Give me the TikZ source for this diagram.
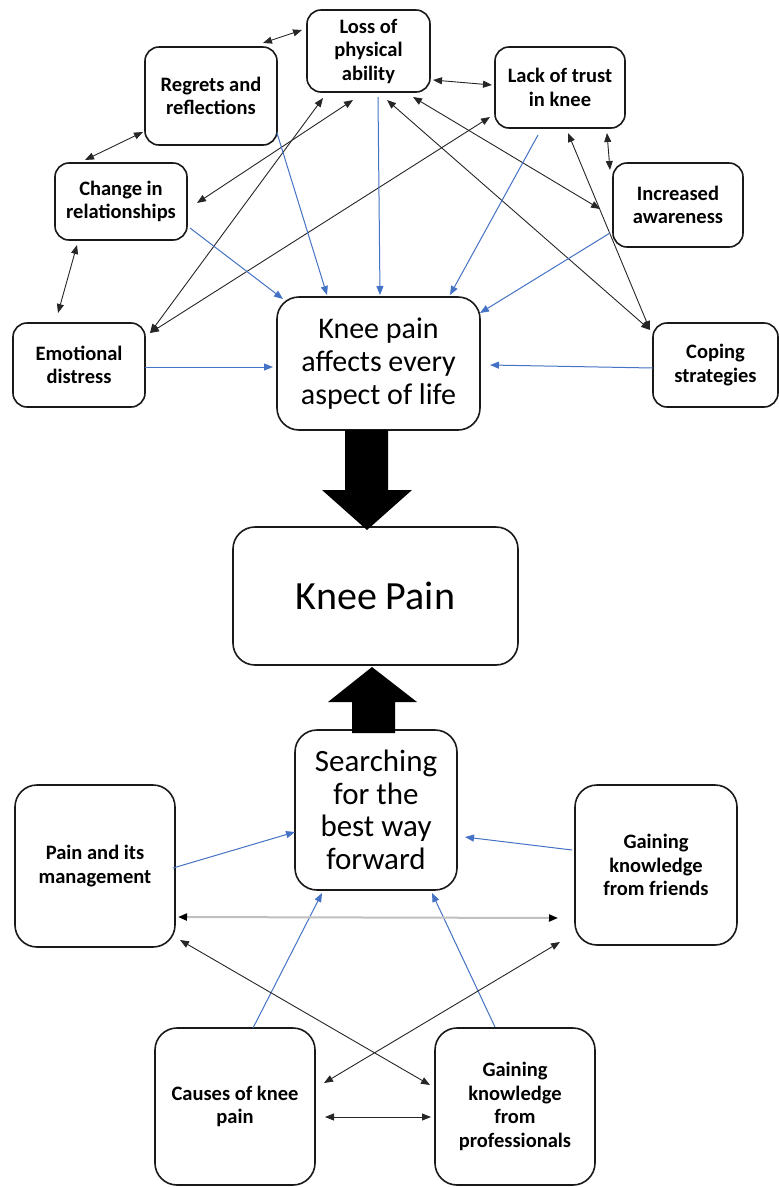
\documentclass[tikz,border=0pt]{standalone}
\usepackage{fontspec}
\setmainfont{Carlito}
\usetikzlibrary{arrows.meta}
\definecolor{linkblue}{RGB}{68,114,196}
\begin{document}
\begin{tikzpicture}[x=1pt,y=-1pt,
  box/.style={draw=black!90,line width=1.6pt,rounded corners=14pt,fill=white,
    align=center,inner sep=2pt,outer sep=0pt,font=\fontsize{20.5}{23.5}\selectfont\bfseries},
  bigbox/.style={box,rounded corners=22pt},
  tip/.style={Triangle[length=9pt,width=7pt]},
  link/.style={black!85,line width=0.9pt,{Triangle[length=9pt,width=7pt]}-{Triangle[length=9pt,width=7pt]}},
  fadelink/.style={black!25,line width=2pt,
    {Triangle[length=9pt,width=7pt,color=black]}-{Triangle[length=9pt,width=7pt,color=black]}},
  feed/.style={linkblue,line width=1pt,-{Triangle[length=9pt,width=7pt]}}]
  \useasboundingbox (0,0) rectangle (779,1187);

  \node[box,minimum width=123pt,minimum height=82pt] (loss) at (368.5,51) {Loss of\\physical\\ability};
  \node[box,minimum width=132pt,minimum height=98pt] (reg) at (211,96) {Regrets and\\reflections};
  \node[box,minimum width=130pt,minimum height=81pt] (lack) at (560,87.5) {Lack of trust\\in knee};
  \node[box,minimum width=132pt,minimum height=77pt] (chg) at (121,201.5) {Change in\\relationships};
  \node[box,minimum width=130pt,minimum height=84pt] (inc) at (678,205) {Increased\\awareness};
  \node[box,minimum width=132pt,minimum height=84pt] (emo) at (79,365) {Emotional\\distress};
  \node[box,minimum width=125pt,minimum height=84pt] (cope) at (715.5,365) {Coping\\strategies};
  \node[bigbox,minimum width=203pt,minimum height=133pt,font=\fontsize{30}{33}\selectfont]
    (life) at (378.5,363.5) {Knee pain\\affects every\\aspect of life};
  \node[bigbox,minimum width=285pt,minimum height=138pt,font=\fontsize{40}{44}\selectfont]
    (knee) at (375.5,596) {Knee Pain};
  \node[bigbox,minimum width=162pt,minimum height=160pt,font=\fontsize{31}{32.5}\selectfont]
    (search) at (376,810) {Searching\\for the\\best way\\forward};
  \node[bigbox,minimum width=160pt,minimum height=162pt] (mgmt) at (95,866) {Pain and its\\management};
  \node[bigbox,minimum width=162pt,minimum height=160pt] (friends) at (656,865) {Gaining\\knowledge\\from friends};
  \node[bigbox,minimum width=160pt,minimum height=157pt] (causes) at (235,1106.5) {Causes of knee\\pain};
  \node[bigbox,minimum width=160pt,minimum height=157pt] (prof) at (515,1106.5) {Gaining\\knowledge\\from\\professionals};

  \draw[link] ([shift={(52,-4)}]reg.north) -- ([shift={(-5,-21)}]loss.west);
  \draw[link] ([shift={(-2,-13)}]reg.south west) -- ([shift={(-36,-3)}]chg.north);
  \draw[link] ([shift={(-44,5)}]chg.south) -- ([shift={(-21,-10)}]emo.north);
  \draw[link] ([shift={(3,29)}]loss.east) -- ([shift={(-3,-2.5)}]lack.west);
  \draw[link] ([shift={(47,5)}]lack.south) -- ([shift={(-3,7)}]inc.north west);
  \draw[link] ([shift={(-15.5,8)}]loss.south) -- ([shift={(10,1.5)}]chg.east);
  \draw[link] ([shift={(-45.5,6)}]loss.south) -- ([shift={(5,10)}]emo.north east);
  \draw[link] ([shift={(-5,-11)}]lack.south west) -- ([shift={(5,10)}]emo.north east);
  \draw[link] ([shift={(44.5,5)}]loss.south) -- ([shift={(-13,4)}]inc.west);
  \draw[link] ([shift={(18.5,8)}]loss.south) -- ([shift={(-3,7)}]cope.north west);
  \draw[link] ([shift={(8,5)}]lack.south) -- ([shift={(-3,7)}]cope.north west);

  \draw[feed] ([shift={(3,-12)}]chg.south east) -- ([shift={(6,2)}]life.north west);
  \draw[feed] ([shift={(0,-12)}]reg.south east) -- ([shift={(-51.5,-2)}]life.north);
  \draw[feed] ([shift={(9.5,5)}]loss.south) -- ([shift={(1.5,-2)}]life.north);
  \draw[feed] ([shift={(-22,7)}]lack.south) -- ([shift={(71.5,-2)}]life.north);
  \draw[feed] ([shift={(-3,-14)}]inc.south west) -- ([shift={(0,16)}]life.north east);
  \draw[feed] ([shift={(0,2)}]emo.east) -- ([shift={(-4,3.5)}]life.west);
  \draw[feed] ([shift={(0,3)}]cope.west) -- ([shift={(10,1.5)}]life.east);

  \fill (345,430) -- (388,430) -- (388,490) -- (412,490) -- (367,530) -- (322,490) -- (345,490) -- cycle;
  \fill (352,733) -- (352,702) -- (328,702) -- (372,667) -- (417,702) -- (395,702) -- (395,733) -- cycle;

  \draw[feed] ([shift={(-2,2)}]mgmt.east) -- ([shift={(0,22)}]search.west);
  \draw[feed] ([shift={(-3,-15)}]friends.west) -- ([shift={(8,27)}]search.east);
  \draw[feed] ([shift={(18,0)}]causes.north) -- ([shift={(-54,3)}]search.south);
  \draw[feed] ([shift={(-20,-1)}]prof.north) -- ([shift={(56,3)}]search.south);
  \draw[fadelink] ([shift={(3,51)}]mgmt.east) -- ([shift={(-17,53)}]friends.west);
  \draw[link] ([shift={(5,-7)}]mgmt.south east) -- ([shift={(-5,-21.5)}]prof.west);
  \draw[link] ([shift={(-15,-3)}]friends.south west) -- ([shift={(9,-23.5)}]causes.east);
  \draw[link] ([shift={(10,10.5)}]causes.east) -- ([shift={(-4,10.5)}]prof.west);
\end{tikzpicture}
\end{document}
